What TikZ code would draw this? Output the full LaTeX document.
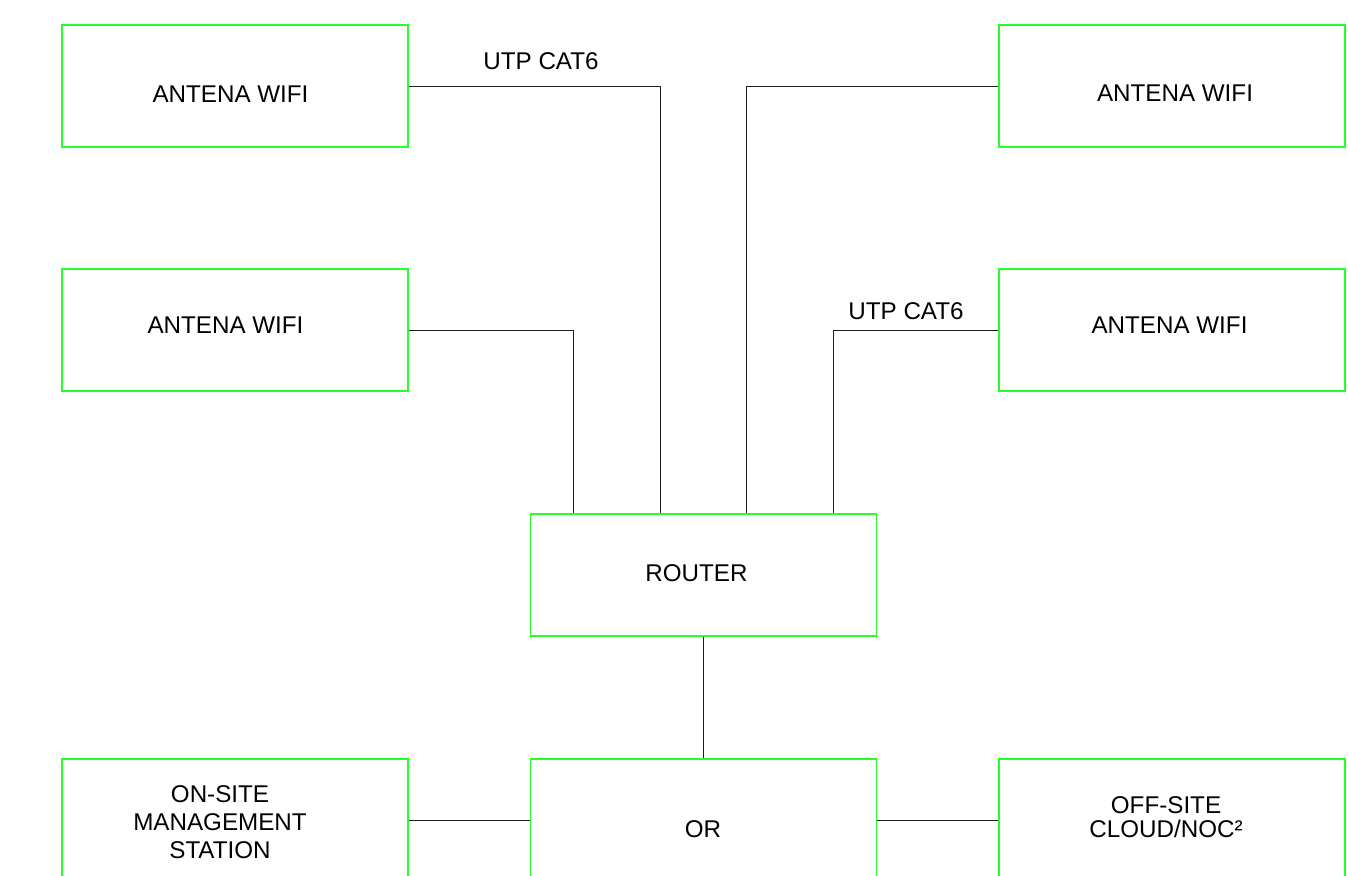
\documentclass[tikz,border=0pt]{standalone}
\usepackage{fontspec}
\setmainfont{Liberation Sans}
\begin{document}
\begin{tikzpicture}[x=0.75pt,y=0.75pt,yscale=-1,
	box/.style={draw={rgb, 255:red, 40; green, 255; blue, 40}, line width=0.8pt, minimum width=259.5pt, minimum height=91.5pt, inner sep=0pt},
	wire/.style={draw={rgb, 255:red, 30; green, 30; blue, 30}, line width=0.75pt},
	txt/.style={inner sep=0pt, font=\fontsize{18.15}{21}\selectfont, align=center}]
			%set diagram to 1348 x 875
			\clip (0,0) rectangle (1348,875);
			
			%Shape: Rectangle [antenna top left]
			\node [box] (antTL) at (235,86) {};
			%Shape: Rectangle [antenna top right]
			\node [box] (antTR) at (1172,86) {};
			%Shape: Rectangle [antenna middle left]
			\node [box] (antML) at (235,330) {};
			%Shape: Rectangle [antenna middle right]
			\node [box] (antMR) at (1172,330) {};
			%Shape: Rectangle [router]
			\node [box] (router) at (703.5,575) {};
			%Shape: Rectangle [bottom row, cut by the page edge]
			\node [box] (onsite) at (235,820) {};
			\node [box] (orbox) at (703.5,820) {};
			\node [box] (offsite) at (1172,820) {};
			
			%Straight Lines [antennas to router]
			\draw [wire] (antTL.east) -| ([xshift=-32.25pt]router.north) ;
			\draw [wire] (antML.east) -| ([xshift=-97.5pt]router.north) ;
			\draw [wire] (antTR.west) -| ([xshift=32.25pt]router.north) ;
			\draw [wire] (antMR.west) -| ([xshift=97.5pt]router.north) ;
			%Straight Lines [router to bottom row]
			\draw [wire] (router.south) -- (orbox.north) ;
			\draw [wire] (onsite.east) -- (orbox.west) ;
			\draw [wire] (orbox.east) -- (offsite.west) ;
			
			% Text Node
			\node [txt] (tTL) at (230.5,94) {ANTENA WIFI};
			% Text Node
			\node [txt] (tTR) at (1175,93) {ANTENA WIFI};
			% Text Node
			\node [txt] (tML) at (225.5,325.5) {ANTENA WIFI};
			% Text Node
			\node [txt] (tMR) at (1169.5,325.5) {ANTENA WIFI};
			% Text Node
			\node [txt] (tRouter) at (696.5,573) {ROUTER};
			% Text Node
			\node [txt] (tOr) at (703,829.5) {OR};
			% Text Node
			\node [txt, font=\fontsize{18.15}{21}\selectfont] (tOnsite) at (220,822.5) {ON-SITE\\MANAGEMENT\\STATION};
			% Text Node
			\node [txt, font=\fontsize{18.15}{18}\selectfont] (tOffsite) at (1166,817.5) {OFF-SITE\\CLOUD/NOC²};
			% Text Node
			\node [txt] (cable1) at (541,61.5) {UTP CAT6};
			% Text Node
			\node [txt] (cable2) at (906,311.5) {UTP CAT6};
			
		\end{tikzpicture}
\end{document}
